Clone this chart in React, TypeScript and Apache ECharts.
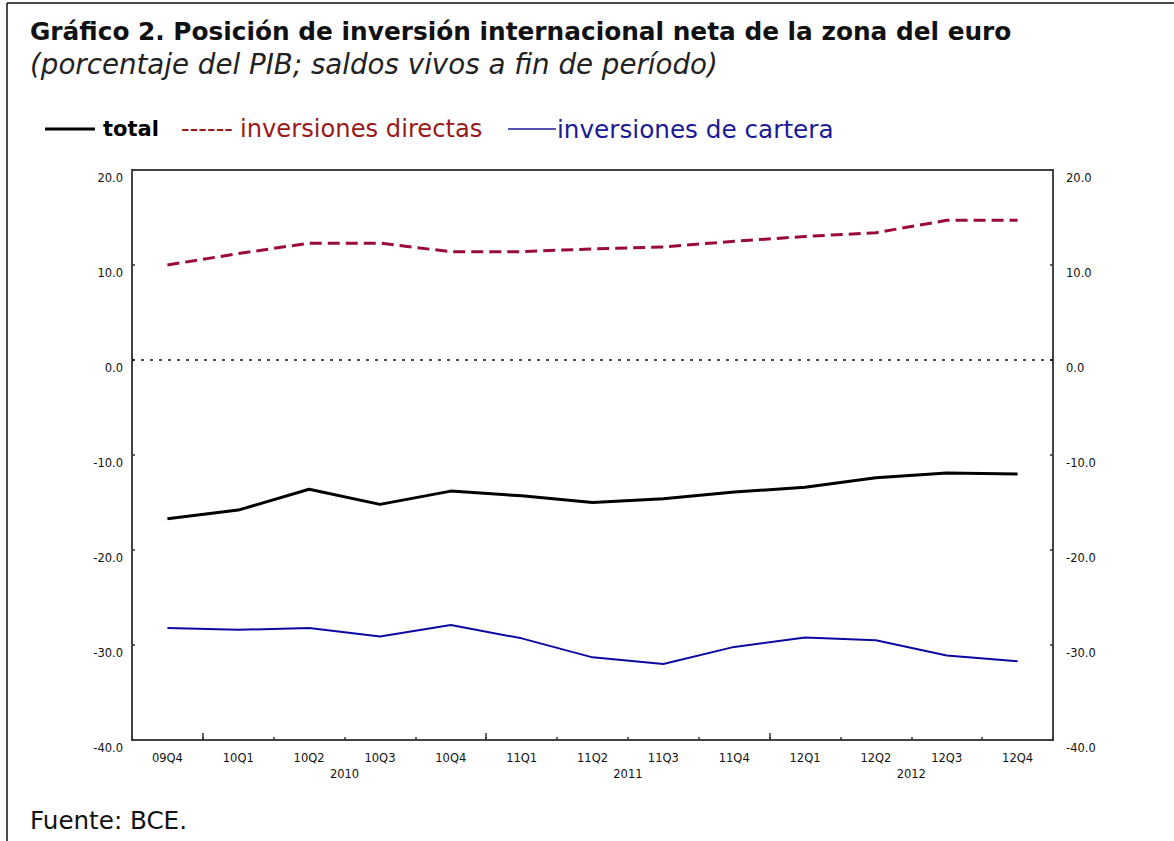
import React, { useEffect, useRef } from "react";
import * as echarts from "echarts";

const categories = ["09Q4", "10Q1", "10Q2", "10Q3", "10Q4", "11Q1", "11Q2", "11Q3", "11Q4", "12Q1", "12Q2", "12Q3", "12Q4"];
const total = [-16.7, -15.8, -13.6, -15.2, -13.8, -14.3, -15.0, -14.6, -13.9, -13.4, -12.4, -11.9, -12.0];
const directas = [10.0, 11.2, 12.3, 12.3, 11.4, 11.4, 11.7, 11.9, 12.5, 13.0, 13.4, 14.7, 14.7];
const cartera = [-28.2, -28.4, -28.2, -29.1, -27.9, -29.3, -31.3, -32.0, -30.2, -29.2, -29.5, -31.1, -31.7];
const yTicks = [-40, -30, -20, -10, 0, 10, 20];

const TITLE = "Gráfico 2. Posición de inversión internacional neta de la zona del euro";
const SUBTITLE = "(porcentaje del PIB; saldos vivos a fin de período)";
const SOURCE = "Fuente: BCE.";
const LEGEND = ["total", "inversiones directas", "inversiones de cartera"];

const FONT = "DejaVu Sans";

export default function App() {
  const ref = useRef<HTMLDivElement>(null);
  useEffect(() => {
    document.body.style.margin = "0";
    const chart = echarts.init(ref.current!, null, { renderer: "svg" });

    // year groups derived from categories: a year starts at its Q1 quarter
    const yearStarts: number[] = [];
    const yearNames: string[] = [];
    categories.forEach((c, i) => {
      if (c.endsWith("Q1")) {
        yearStarts.push(i);
        yearNames.push("20" + c.slice(0, 2));
      }
    });
    const yearMids = yearStarts.map((s) => s + 2);

    const axisFont = { fontFamily: "DejaVu Sans", fontSize: 11.5, color: "#111" };

    chart.setOption({
      animation: false,
      backgroundColor: "#fff",
      grid: {
        left: 132,
        right: 121,
        top: 170,
        bottom: 101,
        show: true,
        borderColor: "#444",
        borderWidth: 2,
        backgroundColor: "transparent",
      },
      xAxis: [
        {
          type: "category",
          data: categories,
          boundaryGap: true,
          axisLine: { onZero: false, lineStyle: { color: "#444", width: 2 } },
          axisTick: { show: true, inside: true, length: 3, lineStyle: { color: "#333", width: 1.5 } },
          axisLabel: { ...axisFont, margin: 12, interval: 0 },
          splitLine: { show: false },
        },
        {
          type: "value",
          min: 0,
          max: categories.length,
          position: "bottom",
          axisLine: { show: false, onZero: false },
          splitLine: { show: false },
          axisTick: { show: true, inside: true, length: 7, customValues: yearStarts, lineStyle: { color: "#333", width: 1.5 } },
          axisLabel: {
            ...axisFont,
            margin: 28,
            customValues: yearMids,
            formatter: (v: number) => {
              const k = yearMids.indexOf(v);
              return k >= 0 ? yearNames[k] : "";
            },
          },
        },
      ],
      yAxis: [0, 1].map((i) => ({
        type: "value",
        min: yTicks[0],
        max: yTicks[yTicks.length - 1],
        interval: 10,
        position: i === 0 ? "left" : "right",
        axisLine: { show: true, onZero: false, lineStyle: { color: "#444", width: 2 } },
        axisTick: { show: true, inside: true, length: 3, lineStyle: { color: "#333", width: 1.5 } },
        splitLine: { show: false },
        axisLabel: {
          ...axisFont,
          margin: i === 0 ? 9 : 13,
          verticalAlign: "top",
          padding: [2, 0, 0, 0],
          formatter: (v: number) => v.toFixed(1),
        },
      })),
      series: [
        {
          name: LEGEND[1],
          type: "line",
          data: directas,
          symbol: "none",
          lineStyle: { color: "#9b0a3c", width: 3, type: [12, 6] },
        },
        {
          name: LEGEND[0],
          type: "line",
          data: total,
          symbol: "none",
          lineStyle: { color: "#000", width: 3 },
          markLine: {
            silent: true,
            symbol: "none",
            label: { show: false },
            lineStyle: { color: "#111", width: 1.5, type: [3, 6] },
            data: [{ yAxis: 0 }],
          },
        },
        {
          name: LEGEND[2],
          type: "line",
          data: cartera,
          symbol: "none",
          lineStyle: { color: "#0a0aa0", width: 2 },
        },
      ],
      graphic: [
        { type: "line", shape: { x1: 7, y1: 3, x2: 1174, y2: 3 }, style: { stroke: "#111", lineWidth: 1.5 } },
        { type: "line", shape: { x1: 7, y1: 3, x2: 7, y2: 841 }, style: { stroke: "#111", lineWidth: 1.5 } },
        {
          type: "text",
          x: 30,
          y: 31,
          style: { text: TITLE, font: `bold 24.8px ${FONT}`, fill: "#111", verticalAlign: "middle" },
        },
        {
          type: "text",
          x: 30,
          y: 64,
          style: { text: SUBTITLE, font: `italic 27.7px ${FONT}`, fill: "#222", verticalAlign: "middle" },
        },
        { type: "line", shape: { x1: 45, y1: 129, x2: 95, y2: 129 }, style: { stroke: "#000", lineWidth: 3 } },
        {
          type: "text",
          x: 103,
          y: 129,
          style: { text: LEGEND[0], font: `bold 21px ${FONT}`, fill: "#000", verticalAlign: "middle" },
        },
        {
          type: "text",
          x: 181,
          y: 129,
          style: { text: "------", font: `24px ${FONT}`, fill: "#991a1a", verticalAlign: "middle" },
        },
        {
          type: "text",
          x: 240,
          y: 129,
          style: { text: LEGEND[1], font: `24.2px ${FONT}`, fill: "#991a1a", verticalAlign: "middle" },
        },
        { type: "line", shape: { x1: 508, y1: 129, x2: 556, y2: 129 }, style: { stroke: "#1a1a99", lineWidth: 1.5 } },
        {
          type: "text",
          x: 557,
          y: 129,
          style: { text: LEGEND[2], font: `24.7px ${FONT}`, fill: "#1a1a99", verticalAlign: "middle" },
        },
        {
          type: "text",
          x: 30,
          y: 820,
          style: { text: SOURCE, font: `24.6px ${FONT}`, fill: "#111", verticalAlign: "middle" },
        },
      ],
    });
    return () => chart.dispose();
  }, []);
  return <div ref={ref} style={{ width: 1174, height: 841 }} />;
}
